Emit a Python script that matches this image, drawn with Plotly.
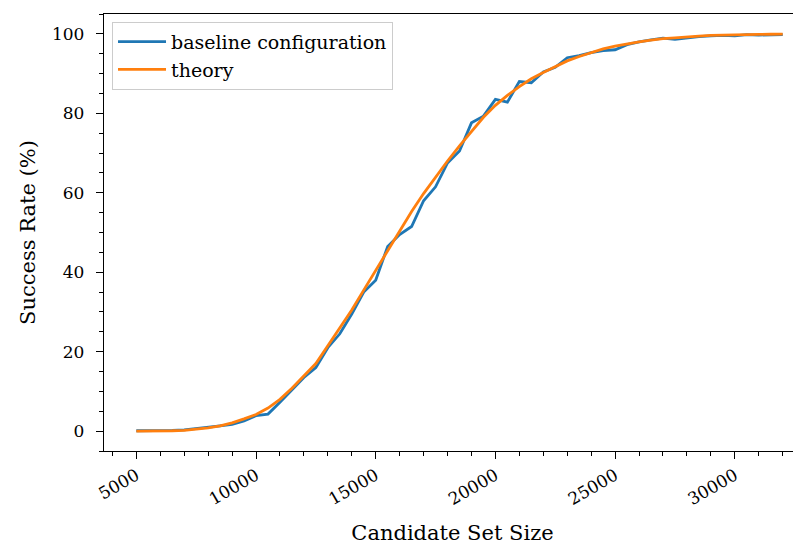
import plotly.graph_objects as go

# Candidate set sizes (x values)
candidate_sizes = [5000 + 500 * i for i in range(55)]

baseline_rate = [
    0.1, 0.1, 0.15, 0.2, 0.3, 0.6, 1.0, 1.3, 1.7, 2.6,
    3.9, 4.3, 7.3, 10.5, 13.5, 16.0, 21.0, 24.5, 29.5, 35.0,
    38.0, 46.5, 49.5, 51.5, 58.0, 61.5, 67.5, 70.5, 77.6, 79.3,
    83.5, 82.8, 88.0, 87.7, 90.4, 91.6, 94.0, 94.5, 95.3, 95.8,
    96.0, 97.3, 98.0, 98.5, 98.9, 98.6, 99.0, 99.3, 99.5, 99.6,
    99.5, 99.8, 99.7, 99.8, 99.8,
]

theory_rate = [
    0.0, 0.0, 0.05, 0.1, 0.2, 0.45, 0.8, 1.3, 2.1, 3.1,
    4.2, 5.8, 8.0, 10.8, 13.8, 17.0, 21.5, 26.0, 30.5, 35.5,
    40.5, 45.5, 50.5, 55.3, 59.8, 64.0, 68.0, 71.8, 75.5, 79.0,
    82.0, 84.5, 86.7, 88.7, 90.3, 91.8, 93.2, 94.3, 95.3, 96.2,
    96.9, 97.5, 98.0, 98.4, 98.8, 99.0, 99.3, 99.45, 99.6, 99.7,
    99.75, 99.82, 99.87, 99.9, 99.93,
]

x_ticks = [5000, 10000, 15000, 20000, 25000, 30000]
y_ticks = [0, 20, 40, 60, 80, 100]

FONT = "DejaVu Serif"

fig = go.Figure()
fig.add_trace(go.Scatter(x=candidate_sizes, y=baseline_rate, mode="lines",
                         name="baseline configuration",
                         line=dict(color="#1f77b4", width=2.8)))
fig.add_trace(go.Scatter(x=candidate_sizes, y=theory_rate, mode="lines",
                         name="theory",
                         line=dict(color="#ff7f0e", width=2.8)))

# page body has an 8px margin, so the figure is shrunk and margins offset by 8px
fig.update_layout(
    width=793, height=537,
    margin=dict(l=96, r=0, t=6, b=94),
    paper_bgcolor="white", plot_bgcolor="white",
    font=dict(family=FONT, size=17, color="black"),
    showlegend=True,
    legend=dict(x=0.0115, y=0.982, xanchor="left", yanchor="top",
                bgcolor="white", bordercolor="#cccccc", borderwidth=1,
                font=dict(family=FONT, size=19, color="black"),
                itemwidth=48, tracegroupgap=0),
)

fig.update_xaxes(
    range=[3650, 32765], tickmode="array", tickvals=x_ticks,
    ticktext=[str(v) for v in x_ticks], tickangle=-30,
    showgrid=False, zeroline=False,
    showline=True, linecolor="black", linewidth=1.3, mirror=True,
    ticks="outside", ticklen=7, tickwidth=1.3, tickcolor="black",
    tickfont=dict(family=FONT, size=17),
    minor=dict(dtick=1000, tick0=0, ticks="outside", ticklen=4, tickwidth=1, tickcolor="black"),
    title=dict(text="Candidate Set Size", font=dict(family=FONT, size=21), standoff=19),
)
fig.update_yaxes(
    range=[-5, 105], tickmode="array", tickvals=y_ticks,
    showgrid=False, zeroline=False,
    showline=True, linecolor="black", linewidth=1.3, mirror=False,
    ticks="outside", ticklen=7, tickwidth=1.3, tickcolor="black",
    tickfont=dict(family=FONT, size=17), ticklabelstandoff=8,
    minor=dict(dtick=5, tick0=0, ticks="outside", ticklen=4, tickwidth=1, tickcolor="black"),
    title=dict(text="Success Rate (%)", font=dict(family=FONT, size=21), standoff=10),
)

fig.write_html("out.html")
